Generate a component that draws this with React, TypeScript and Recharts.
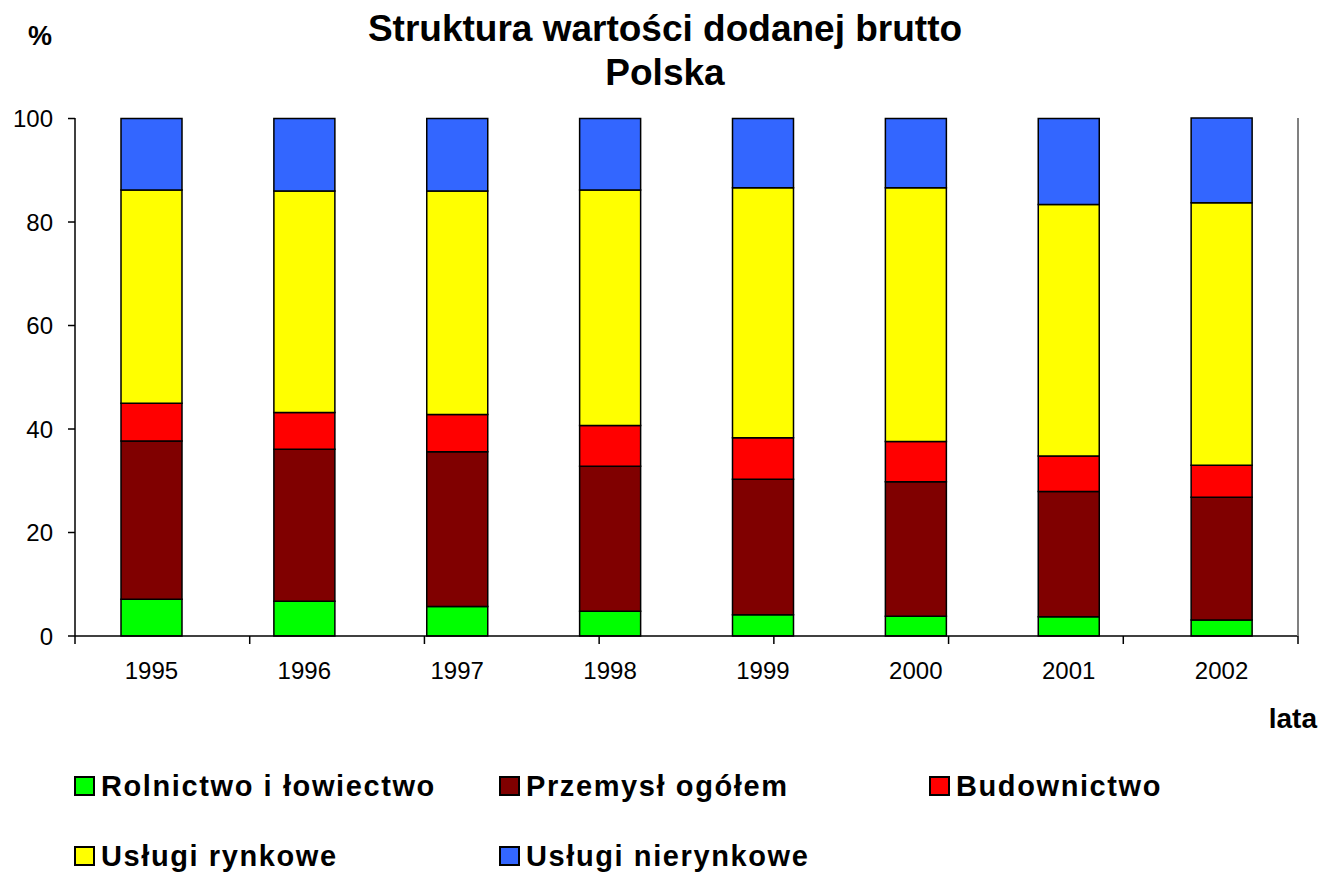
import React from "react";
import { BarChart, Bar, XAxis, YAxis, CartesianGrid } from "recharts";

// ── Data (shares of gross value added, %) ─────────────────────────────────

const YEARS = ["1995", "1996", "1997", "1998", "1999", "2000", "2001", "2002"];

const ROLNICTWO = [7.1, 6.7, 5.7, 4.8, 4.1, 3.8, 3.7, 3.1];
const PRZEMYSL = [30.6, 29.4, 29.9, 28.0, 26.2, 26.0, 24.2, 23.7];
const BUDOWNICTWO = [7.3, 7.1, 7.2, 7.9, 8.0, 7.8, 6.9, 6.2];
const USLUGI_RYNKOWE = [41.2, 42.8, 43.2, 45.5, 48.3, 49.0, 48.6, 50.7];
const USLUGI_NIERYNKOWE = [13.8, 14.0, 14.0, 13.8, 13.4, 13.4, 16.6, 16.4];

const Y_TICKS = [0, 20, 40, 60, 80, 100];
const GRID_VALUES = [20, 40, 60, 80];
const BOUNDARY_TICKS = [0, 1, 2, 3, 4, 5, 6, 7, 8];

const SERIES = [
  { key: "rolnictwo", name: "Rolnictwo i łowiectwo", color: "#00ff00", values: ROLNICTWO },
  { key: "przemysl", name: "Przemysł ogółem", color: "#800000", values: PRZEMYSL },
  { key: "budownictwo", name: "Budownictwo", color: "#ff0000", values: BUDOWNICTWO },
  { key: "rynkowe", name: "Usługi rynkowe", color: "#ffff00", values: USLUGI_RYNKOWE },
  { key: "nierynkowe", name: "Usługi nierynkowe", color: "#3366ff", values: USLUGI_NIERYNKOWE },
];

const data = YEARS.map((year, i) => {
  const row: Record<string, string | number> = { year };
  SERIES.forEach((s) => {
    row[s.key] = s.values[i];
  });
  return row;
});

const FONT = "'Liberation Sans', Arial, sans-serif";

// legend rows: first three items, then the last two
const LEGEND_ROWS = [SERIES.slice(0, 3), SERIES.slice(3)];
const LEGEND_COLS = [74, 499, 929];

export default function App() {
  return (
    <div
      style={{
        position: "absolute",
        left: 0,
        top: 0,
        width: 1322,
        height: 875,
        background: "#fff",
        fontFamily: FONT,
        color: "#000",
      }}
    >
      <div
        style={{
          position: "absolute",
          left: 0,
          width: 1330,
          top: 7,
          textAlign: "center",
          fontWeight: "bold",
          fontSize: 37,
          lineHeight: "44px",
        }}
      >
        Struktura wartości dodanej brutto
        <br />
        Polska
      </div>
      <div style={{ position: "absolute", left: 28, top: 21, fontWeight: "bold", fontSize: 27 }}>%</div>
      <div
        style={{ position: "absolute", right: 5, top: 703, fontWeight: "bold", fontSize: 28 }}
      >
        lata
      </div>

      <BarChart
        width={1322}
        height={875}
        data={data}
        margin={{ top: 118, right: 23, left: 15, bottom: 0 }}
        barSize={61}
        style={{ position: "absolute", left: 0, top: 0 }}
      >
        <CartesianGrid
          vertical={false}
          horizontalValues={GRID_VALUES}
          stroke="#000"
          strokeWidth={1.5}
        />
        <XAxis
          xAxisId="edges"
          type="number"
          domain={[0, 8]}
          ticks={BOUNDARY_TICKS}
          tickFormatter={() => ""}
          tickSize={8}
          height={1}
          stroke="#000"
          axisLine={{ stroke: "#000", strokeWidth: 1.5 }}
          tickLine={{ stroke: "#000", strokeWidth: 1.5 }}
        />
        <XAxis
          xAxisId="years"
          dataKey="year"
          tickLine={false}
          axisLine={false}
          height={238}
          tickMargin={19}
          tick={{ fill: "#000", fontSize: 24, fontFamily: FONT }}
        />
        <XAxis
          xAxisId="top"
          orientation="top"
          dataKey="year"
          tick={false}
          tickLine={false}
          height={0}
          axisLine={{ stroke: "#808080", strokeWidth: 1.5 }}
        />
        <YAxis
          yAxisId="left"
          domain={[0, 100]}
          ticks={Y_TICKS}
          width={60}
          tickSize={7}
          tickMargin={15}
          interval={0}
          axisLine={{ stroke: "#000", strokeWidth: 1.5 }}
          tickLine={{ stroke: "#000", strokeWidth: 1.5 }}
          tick={{ fill: "#000", fontSize: 24, fontFamily: FONT }}
        />
        <YAxis
          yAxisId="right"
          orientation="right"
          domain={[0, 100]}
          width={1}
          tick={false}
          tickLine={false}
          axisLine={{ stroke: "#808080", strokeWidth: 2 }}
        />
        {SERIES.map((s) => (
          <Bar
            key={s.key}
            dataKey={s.key}
            name={s.name}
            stackId="a"
            xAxisId="years"
            yAxisId="left"
            fill={s.color}
            stroke="#000"
            strokeWidth={1.5}
            isAnimationActive={false}
          />
        ))}
      </BarChart>

      {LEGEND_ROWS.map((row, r) =>
        row.map((s, c) => (
          <div
            key={s.key}
            style={{
              position: "absolute",
              left: LEGEND_COLS[c],
              top: 766 + r * 70,
              display: "flex",
              alignItems: "center",
              fontWeight: "bold",
              fontSize: 29,
              letterSpacing: 1.6,
              lineHeight: "40px",
              whiteSpace: "nowrap",
            }}
          >
            <span
              style={{
                display: "inline-block",
                width: 17,
                height: 16,
                background: s.color,
                border: "2px solid #000",
                marginRight: 6,
              }}
            />
            {s.name}
          </div>
        ))
      )}
    </div>
  );
}
